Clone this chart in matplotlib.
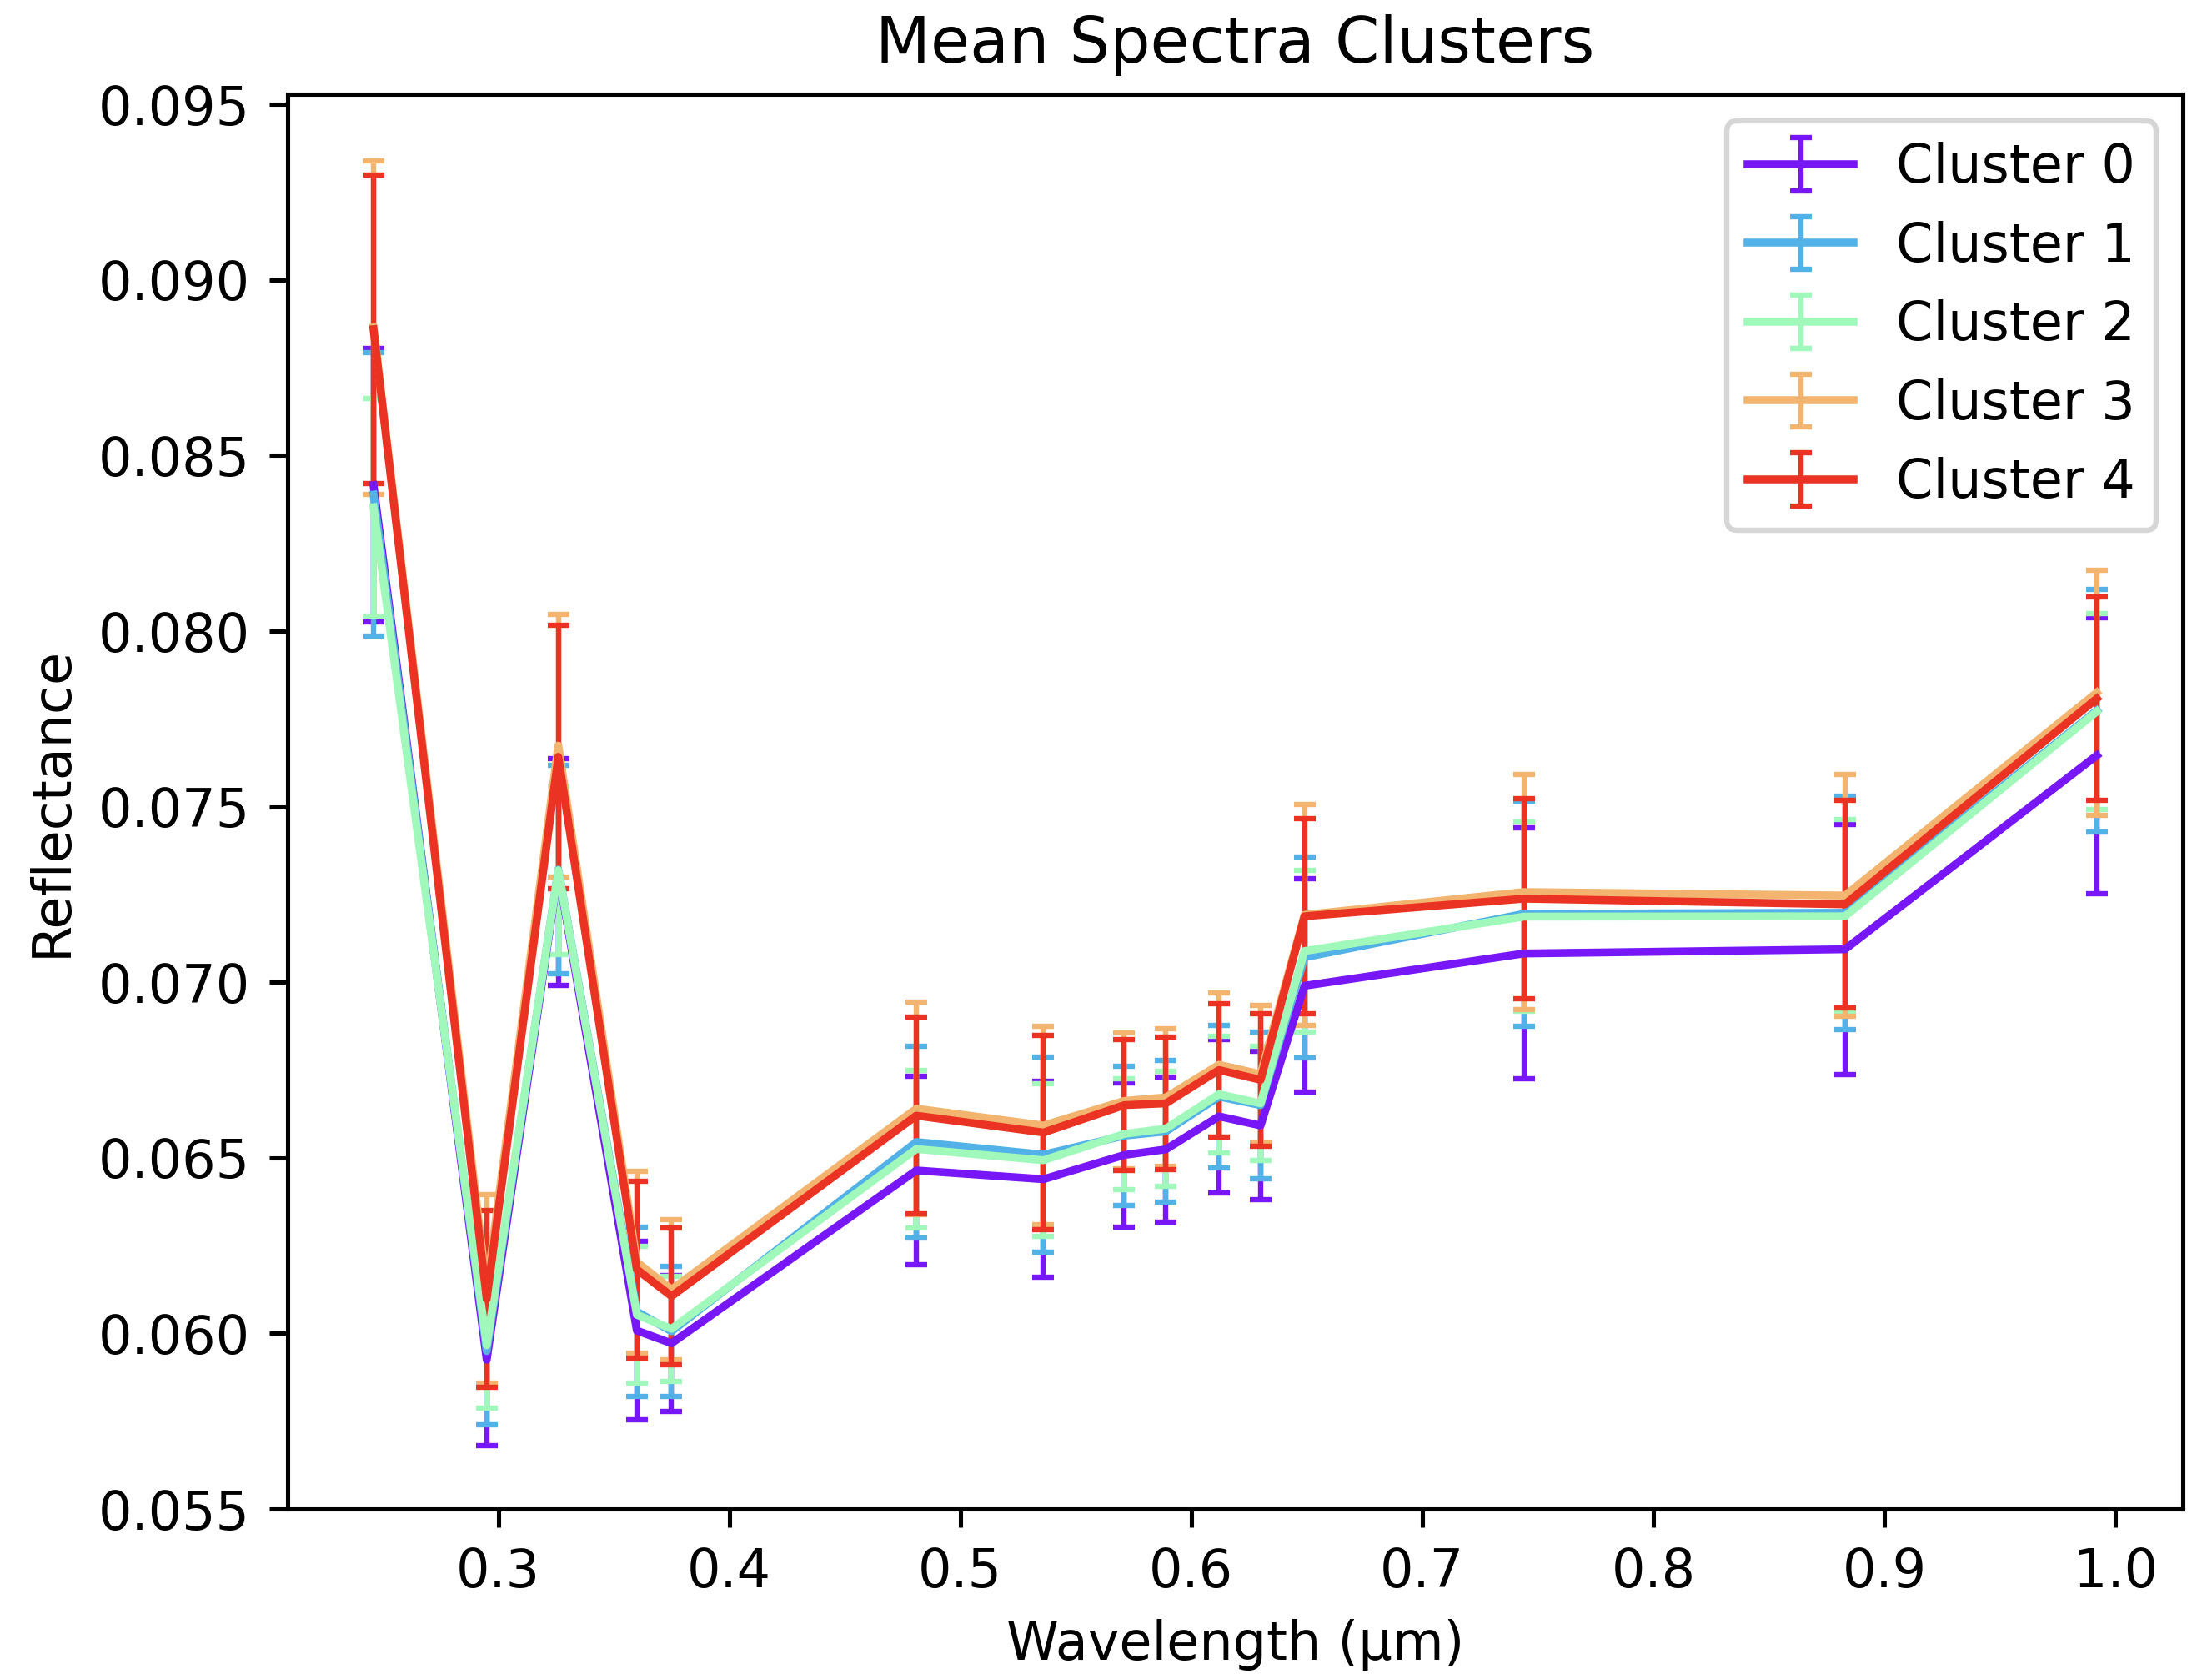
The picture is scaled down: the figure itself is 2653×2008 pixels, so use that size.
import matplotlib
matplotlib.use("Agg")
import matplotlib.pyplot as plt
import numpy as np

# wavelengths (um)
wavelength = [0.246, 0.295, 0.326, 0.360, 0.375, 0.481, 0.536, 0.571,
              0.589, 0.612, 0.630, 0.649, 0.744, 0.883, 0.992]

labels = ["Cluster 0", "Cluster 1", "Cluster 2", "Cluster 3", "Cluster 4"]
colors = ["#7716F6", "#52B1E6", "#A0F9BB", "#F2B46E", "#EA3323"]

# mean reflectance per cluster
mean0 = [0.08416, 0.05925, 0.07315, 0.06008, 0.05972, 0.06464, 0.06439, 0.06508,
         0.06524, 0.06618, 0.06592, 0.06990, 0.07082, 0.07094, 0.07646]
mean1 = [0.08389, 0.05950, 0.07321, 0.06062, 0.06006, 0.06545, 0.06509, 0.06563,
         0.06575, 0.06674, 0.06650, 0.07071, 0.07195, 0.07198, 0.07774]
mean2 = [0.08353, 0.05966, 0.07319, 0.06053, 0.06013, 0.06525, 0.06493, 0.06568,
         0.06583, 0.06681, 0.06655, 0.07089, 0.07187, 0.07188, 0.07771]
mean3 = [0.08865, 0.06127, 0.07674, 0.06203, 0.06125, 0.06640, 0.06592, 0.06662,
         0.06672, 0.06765, 0.06738, 0.07192, 0.07257, 0.07247, 0.07825]
mean4 = [0.08860, 0.06098, 0.07642, 0.06182, 0.06106, 0.06620, 0.06572, 0.06650,
         0.06655, 0.06750, 0.06722, 0.07188, 0.07238, 0.07222, 0.07808]

# standard deviations
std0 = [0.00390, 0.00245, 0.00323, 0.00255, 0.00194, 0.00268, 0.00280, 0.00205,
        0.00207, 0.00218, 0.00211, 0.00304, 0.00357, 0.00356, 0.00393]
std1 = [0.00403, 0.00210, 0.00296, 0.00241, 0.00185, 0.00273, 0.00278, 0.00198,
        0.00202, 0.00203, 0.00209, 0.00286, 0.00321, 0.00332, 0.00346]
std2 = [0.00310, 0.00178, 0.00239, 0.00195, 0.00150, 0.00225, 0.00217, 0.00158,
        0.00163, 0.00166, 0.00162, 0.00230, 0.00269, 0.00276, 0.00280]
std3 = [0.00475, 0.00269, 0.00374, 0.00259, 0.00200, 0.00303, 0.00282, 0.00193,
        0.00196, 0.00205, 0.00196, 0.00315, 0.00334, 0.00344, 0.00349]
std4 = [0.00440, 0.00252, 0.00375, 0.00252, 0.00195, 0.00280, 0.00276, 0.00187,
        0.00188, 0.00190, 0.00188, 0.00278, 0.00286, 0.00295, 0.00290]

means = [mean0, mean1, mean2, mean3, mean4]
stds = [std0, std1, std2, std3, std4]

dpi = 458
fig = plt.figure(figsize=(2653/dpi, 2008/dpi), dpi=dpi)
ax = fig.add_axes([0.1299, 0.0986, 0.8570, 0.8451])

for i in range(5):
    ax.errorbar(wavelength, means[i], yerr=stds[i], color=colors[i],
                label=labels[i], lw=1.5, elinewidth=1, capsize=2, capthick=1)

ax.set_ylim(0.055, 0.09529)
ax.set_title('Mean Spectra Clusters', fontsize=12)
ax.set_xlabel('Wavelength (µm)')
ax.set_ylabel('Reflectance')
ax.legend(loc='upper right', labelspacing=0.51)

fig.savefig('out.png', dpi=dpi)
